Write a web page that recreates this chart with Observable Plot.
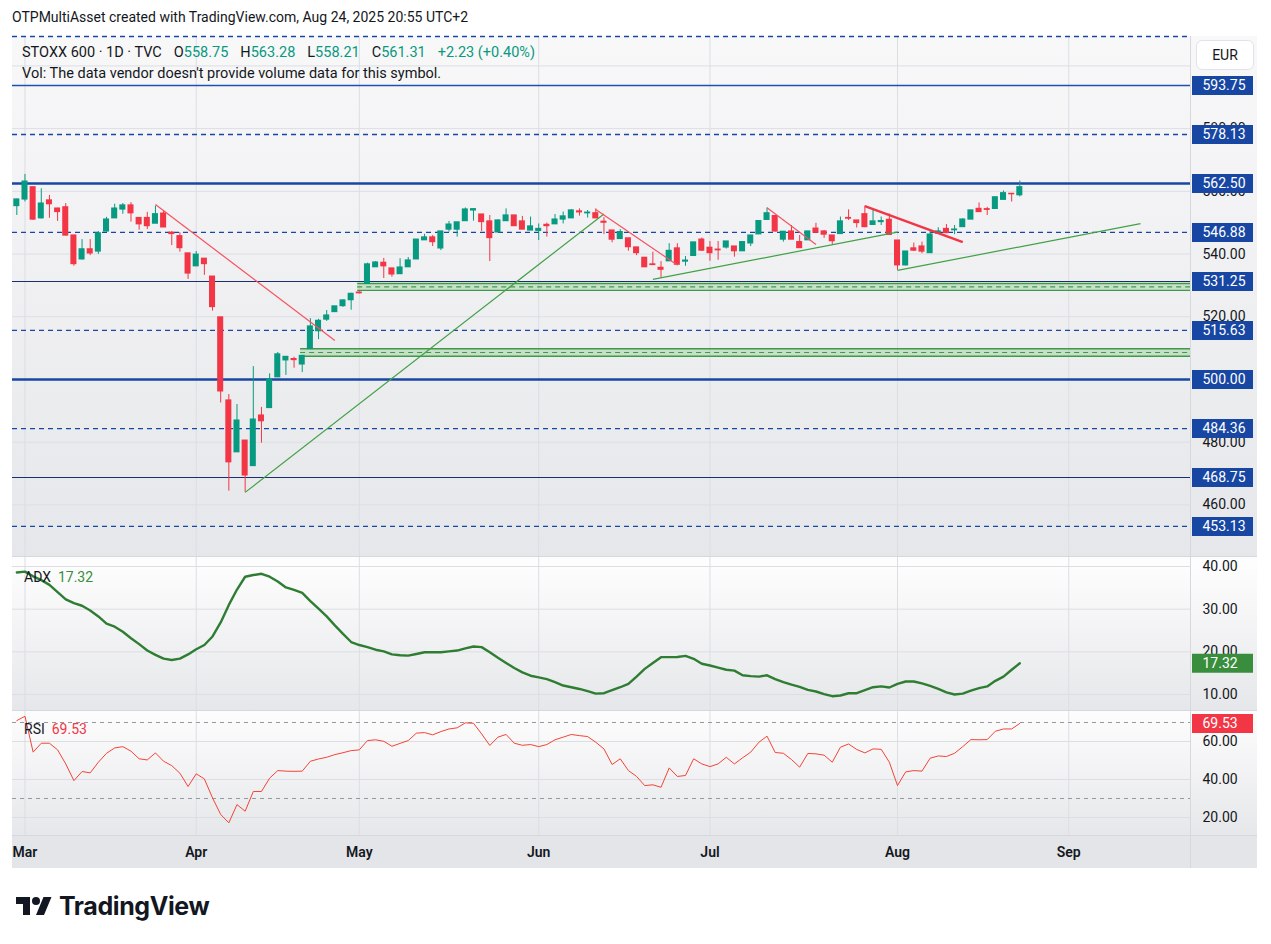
<!DOCTYPE html>
<html>
<head>
<meta charset="utf-8">
<script src="https://cdn.jsdelivr.net/npm/d3@7"></script>
<script src="https://cdn.jsdelivr.net/npm/@observablehq/plot@0.6"></script>
<style>
  html,body{margin:0;padding:0;background:#fff;}
  body{width:1271px;height:944px;position:relative;overflow:hidden;font-family:Roboto,"Noto Sans",sans-serif;color:#131722;}
  .a{position:absolute;white-space:nowrap;}
  .pane{position:absolute;left:12px;width:1245px;}
  .pane > div{position:absolute;top:0;}
  svg{overflow:visible;}
  .g{color:#089981;}
  .it{margin-left:12px;}
</style>
</head>
<body>
<div class="a" style="left:12px;top:8px;font-size:14px;line-height:18px">OTPMultiAsset created with TradingView.com, Aug 24, 2025 20:55 UTC+2</div>

<div id="mainPane" class="pane" style="top:36px;height:520px;background:linear-gradient(#f8f8f9,#e6e7ea)"><div id="mainChart" style="left:0"></div><div id="mainAxis" style="left:1178px"></div></div>
<div class="a" style="left:12px;top:556px;width:1245px;height:1px;background:#d6d8de"></div>
<div id="adxPane" class="pane" style="top:557px;height:153px;background:linear-gradient(#fdfdfd 5%,#e6e7ea)"><div id="adxChart" style="left:0"></div><div id="adxAxis" style="left:1178px"></div></div>
<div class="a" style="left:12px;top:710px;width:1245px;height:1px;background:#d6d8de"></div>
<div id="rsiPane" class="pane" style="top:711px;height:125px;background:linear-gradient(#fdfdfd,#e6e7ea)"><div id="rsiChart" style="left:0"></div><div id="rsiAxis" style="left:1178px"></div></div>
<div class="a" style="left:12px;top:835px;width:1245px;height:1px;background:#d6d8de"></div>
<div id="timePane" class="pane" style="top:836px;height:32px;background:#e4e5e8"><div id="timeAxis" style="left:0"></div></div>
<div class="a" style="left:1190px;top:36px;width:1px;height:832px;background:#d6d8de"></div>

<div id="legend1" class="a" style="left:22px;top:44px;font-size:14.5px;line-height:18px"></div>
<div class="a" style="left:22px;top:65px;font-size:14.5px;line-height:18px">Vol: The data vendor doesn't provide volume data for this symbol.</div>
<div id="adxLegend" class="a" style="left:24px;top:568px;font-size:14px;line-height:18px"></div>
<div id="rsiLegend" class="a" style="left:24px;top:720px;font-size:14px;line-height:18px"></div>
<div class="a" style="left:1196px;top:40px;width:56px;height:28px;border:1px solid #e0e3eb;border-radius:6px;background:#fff;font-size:14px;line-height:28px;text-align:center">EUR</div>

<div class="a" style="left:16px;top:893px;">
  <svg width="36" height="28" viewBox="0 0 36 28"><path d="M14 22H7V11H0V4h14v18zM28 22h-8l7.5-18h8L28 22z" fill="#131722"/><circle cx="20" cy="8" r="4" fill="#131722"/></svg>
</div>
<div class="a" style="left:59px;top:889px;font-family:Inter,Roboto,sans-serif;font-weight:700;font-size:25px;line-height:34px;letter-spacing:-0.4px">TradingView</div>

<script>
// ---------- DATA ----------
// Daily bars, 28 Feb 2025 (index 0) to 22 Aug 2025 (index 123)
const open = [555.3,557.4,561.3,551.4,557.1,554.5,554.9,545.9,538.3,541.5,
 540.8,547.2,551.4,554.2,555.5,551.5,551.5,549.7,552.9,546.8,
 545.7,540.2,536.1,538.5,532.8,519.8,493.3,476.8,480.5,472.4,
 488.5,490.9,500.7,506.1,506.5,504.8,509.7,515.4,519.1,521.5,
 523.4,525.3,527.7,530.5,535.8,537.2,535.4,533.6,535.8,538.3,
 544.4,545.3,541.8,547.8,547.8,550.5,553.9,552.6,550.4,546.9,
 550.5,552.3,550.4,547.5,547.4,549.3,549.5,551.0,551.4,553.6,
 553.0,553.0,550.3,547.5,544.8,545.0,542.1,538.8,536.7,535.6,
 537.7,541.8,537.6,539.4,544.6,542.0,541.4,542.1,542.4,540.9,
 543.4,546.3,550.9,552.1,544.6,547.2,543.8,544.4,548.1,547.2,
 545.9,546.4,551.5,550.7,552.7,549.3,550.2,550.9,544.3,536.4,
 541.8,542.4,540.3,546.5,548.0,547.6,548.6,551.0,554.4,554.3,
 554.4,557.3,559.2,558.75];
const high = [557.5,565.4,561.3,560.8,558.7,554.6,556.1,546.0,544.6,544.6,
 547.2,551.7,555.9,556.1,556.4,551.5,553.3,555.3,553.9,547.2,
 546.8,540.2,540.8,538.5,532.8,519.8,495.2,492.0,480.5,504.1,
 491.1,501.8,508.6,507.2,507.1,507.5,519.4,519.2,522.0,523.3,
 525.4,527.5,528.2,537.1,537.6,538.6,535.4,538.5,538.9,544.6,
 546.3,545.9,547.2,550.4,550.1,554.7,554.5,552.6,552.3,550.9,
 554.4,552.3,552.0,551.8,549.6,549.9,552.6,553.4,554.2,554.4,
 553.9,554.4,551.6,547.5,547.8,545.0,542.1,538.8,540.6,537.6,
 543.3,543.3,539.2,543.7,545.1,544.0,544.0,544.0,542.4,543.8,
 545.9,550.7,554.7,552.1,547.1,549.1,545.9,547.2,549.8,547.5,
 545.9,551.8,554.1,550.7,555.3,554.1,551.8,552.8,544.3,540.8,
 543.5,543.8,547.3,548.4,549.4,549.1,551.2,553.9,556.3,554.9,
 558.1,560.1,559.2,563.28];
const low = [552.3,556.6,550.7,551.2,551.4,550.4,545.7,536.1,538.1,539.5,
 539.9,547.0,551.4,552.7,550.2,547.6,547.8,549.7,548.5,542.7,
 540.6,531.9,536.1,533.2,521.8,492.5,464.4,476.8,464.0,472.4,
 479.7,490.9,500.7,501.3,503.6,502.2,509.7,512.7,518.5,521.5,
 523.0,522.1,527.3,530.5,535.8,532.2,532.6,533.6,535.8,538.3,
 544.4,542.4,541.1,547.0,545.4,550.5,550.5,547.2,537.6,546.7,
 550.5,548.9,547.8,547.5,544.3,545.4,549.5,549.6,551.4,552.1,
 551.5,551.4,546.2,543.6,544.8,540.9,539.5,535.8,536.5,532.4,
 537.7,536.6,536.1,539.4,540.8,537.7,538.0,541.6,539.0,540.9,
 542.4,546.3,550.9,547.0,543.8,544.6,541.9,544.4,546.8,545.0,
 543.05,546.4,550.7,548.3,548.4,549.3,549.1,546.1,534.8,536.2,
 540.8,540.1,540.3,546.5,546.5,546.2,548.6,551.0,553.4,552.3,
 554.2,557.3,556.6,558.21];
const close = [557.4,563.1,551.0,556.1,555.9,553.4,545.9,536.8,541.5,540.2,
 546.6,551.0,554.5,555.5,553.0,549.5,548.9,552.7,548.5,546.4,
 541.9,533.8,539.8,536.8,523.1,496.2,473.6,486.9,469.4,487.2,
 486.7,500.0,508.0,507.2,506.2,507.5,516.9,518.7,520.4,523.3,
 525.2,527.3,527.5,536.7,537.3,536.1,533.5,535.7,537.95,544.6,
 545.3,543.8,547.2,549.4,550.1,554.2,554.3,550.2,545.1,550.7,
 552.3,548.9,547.8,548.8,548.0,548.9,551.0,552.0,553.9,553.3,
 553.2,551.4,550.0,544.6,547.0,542.2,540.3,535.8,536.5,535.0,
 541.0,536.6,537.9,543.7,541.1,540.3,541.2,544.0,540.9,543.8,
 545.9,550.5,553.0,547.2,547.1,544.6,541.9,547.2,546.8,546.2,
 544.1,550.4,551.3,549.9,548.6,550.4,550.5,546.1,536.4,540.8,
 541.1,540.8,546.2,547.2,546.7,547.8,551.0,553.9,553.4,554.1,
 558.1,559.4,559.08,561.31];
const adx = [38.6,38.8,37.7,36.8,35.7,34.0,32.3,31.4,30.8,29.7,
 28.3,26.6,25.9,24.7,23.2,21.8,20.3,19.3,18.4,18.1,
 18.4,19.4,20.6,21.6,23.6,26.9,31.0,34.6,37.6,38.0,
 38.3,37.6,36.5,35.1,34.5,33.8,31.9,30.1,28.3,26.2,
 24.2,22.3,21.6,21.1,20.5,20.1,19.4,19.2,19.1,19.5,
 19.9,19.9,19.9,20.1,20.3,20.8,21.25,21.1,19.9,18.6,
 17.4,16.2,15.2,14.4,14.0,13.6,12.9,12.1,11.7,11.3,
 10.8,10.2,10.3,11.0,11.7,12.5,14.2,16.0,17.4,18.75,
 18.75,18.8,19.06,18.36,17.2,16.8,16.3,15.8,15.6,14.5,
 14.3,14.2,14.5,13.6,12.9,12.3,11.8,11.1,10.7,10.1,
 9.6,9.77,10.3,10.3,11.0,11.7,11.9,11.64,12.5,13.05,
 13.05,12.6,12.0,11.3,10.5,10.0,10.2,10.9,11.5,11.9,
 13.2,14.2,15.8,17.32];
const rsi = [71.0,73.3,54.4,59.1,59.1,55.6,48.2,39.4,44.2,43.5,
 49.1,53.8,56.6,57.3,54.9,50.9,50.3,54.0,49.6,47.3,
 43.3,36.3,43.0,40.3,30.3,21.6,17.2,26.8,23.3,33.7,
 33.7,40.7,44.7,44.4,44.3,44.4,49.6,50.8,51.7,53.1,
 54.1,55.2,55.6,60.5,60.9,60.1,57.5,59.0,60.5,64.4,
 64.7,63.5,65.2,66.6,67.2,69.8,69.6,64.0,57.9,62.3,
 63.7,59.1,58.0,58.4,57.3,58.4,60.9,62.3,63.7,63.1,
 62.6,59.6,56.1,47.9,50.9,44.7,41.6,36.8,37.2,35.9,
 46.1,41.6,42.1,50.9,48.2,46.8,48.2,51.7,48.2,51.4,
 54.4,59.6,62.8,54.2,53.8,50.5,46.5,53.7,53.5,52.8,
 49.1,57.0,58.7,55.8,54.0,56.1,55.9,49.1,36.8,44.0,
 44.7,44.4,51.2,52.4,52.1,53.8,57.3,61.0,60.9,61.0,
 65.4,66.6,66.6,69.53];

// month labels and the bar index where each month starts
const monthLabels = ["Mar","Apr","May","Jun","Jul","Aug","Sep"];
const monthBars = [1,22,42,64,85,108,129];

// price axis ticks and horizontal levels drawn on the chart
const priceTicks = [460,480,500,520,540,560,580,600];
const levels = [609.38,593.75,578.13,562.50,546.88,531.25,515.63,500.00,484.36,468.75,453.13];
const adxTicks = [10,20,30,40];
const rsiTicks = [20,40,60];
const rsiBands = [70,30];

// support zones: start bar, low, high
const zoneStart = [34.8,41.8];
const zoneLow = [507.4,528.4];
const zoneHigh = [509.8,530.6];

// trend lines (bar index, price)
const trendFromBar = [17,28,71,78,92,104,108];
const trendFromPrice = [555.8,464.0,554.2,531.9,554.75,555.3,534.8];
const trendToBar = [39,72,81.05,108,98,116,137.8];
const trendToPrice = [512.4,552.8,536.4,547.0,543.05,543.8,549.7];
const trendSide = ["bear","bull","bear","bull","bear","bear","bull"];

// ---------- STYLE ----------
const GREEN = "#089981", RED = "#f23645", BLUE = "#1847a3", GRID = "#dcdee4";
const X_DOMAIN = [-0.53, 143.93];
const SOLID_THICK = new Set([562.50, 500.00]);
const SOLID_BLUE = new Set([593.75]);
const SOLID_DARK = new Set([531.25, 468.75]);
const BOLD_TREND = 5;
const FONT = "Roboto, 'Noto Sans', sans-serif";

const candles = open.map((o,i)=>({i, o, h:high[i], l:low[i], c:close[i], col: close[i]>=o ? GREEN : RED}));
const zones = zoneStart.map((s,i)=>({s, lo:zoneLow[i], hi:zoneHigh[i], mid:(zoneLow[i]+zoneHigh[i])/2}));
const trends = trendFromBar.map((b,i)=>({x1:b, y1:trendFromPrice[i], x2:trendToBar[i], y2:trendToPrice[i], side:trendSide[i], k:i}));
const xEnd = () => X_DOMAIN[1];
const isDashed = v => !SOLID_THICK.has(v) && !SOLID_BLUE.has(v) && !SOLID_DARK.has(v);

function chart(h, ydom, marks){
  return Plot.plot({width:1178, height:h, margin:0,
    x:{domain:X_DOMAIN, axis:null}, y:{domain:ydom, axis:null},
    color:{type:"identity"},
    style:{background:"transparent", overflow:"visible", fontFamily:FONT},
    marks});
}
function axis(h, ydom, ticks, labels){
  return Plot.plot({width:67, height:h, margin:0,
    y:{domain:ydom, axis:null}, color:{type:"identity"},
    style:{background:"transparent", overflow:"visible", fontFamily:FONT, fontSize:"14px"},
    marks:[
      Plot.text(ticks, {y:d=>d, text:d=>d.toFixed(2), frameAnchor:"left", textAnchor:"start", dx:12, fill:"#131722", fontSize:14}),
      Plot.ruleY(labels, {y:"v", stroke:"bg", strokeWidth:19, insetLeft:2, insetRight:4}),
      Plot.text(labels, {y:"v", text:d=>d.v.toFixed(2), frameAnchor:"left", textAnchor:"start", dx:12, fill:"white", fontSize:14})
    ]});
}

// ---------- MAIN PANE ----------
const MAIN_Y = [443.55, 609.375];
document.getElementById("mainChart").append(chart(520, MAIN_Y, [
  Plot.ruleY(priceTicks, {stroke:GRID}),
  Plot.ruleX(monthBars, {stroke:GRID}),
  Plot.rect(zones, {x1:"s", x2:xEnd, y1:"lo", y2:"hi", fill:"#66bb6a", fillOpacity:0.28}),
  Plot.ruleY(zones, {y:"lo", x1:"s", x2:xEnd, stroke:"#3f9a44", strokeWidth:1.4}),
  Plot.ruleY(zones, {y:"hi", x1:"s", x2:xEnd, stroke:"#3f9a44", strokeWidth:1.4}),
  Plot.ruleY(zones, {y:"mid", x1:"s", x2:xEnd, stroke:"#3f9a44", strokeWidth:1.2, strokeDasharray:"5,4"}),
  Plot.ruleY(levels.filter(isDashed), {stroke:BLUE, strokeWidth:1.3, strokeDasharray:"5,4"}),
  Plot.ruleY(levels.filter(v=>SOLID_BLUE.has(v)), {stroke:"#1f4fb0", strokeWidth:1.6}),
  Plot.ruleY(levels.filter(v=>SOLID_DARK.has(v)), {stroke:"#1a2f70", strokeWidth:1.1}),
  Plot.ruleY(levels.filter(v=>SOLID_THICK.has(v)), {stroke:BLUE, strokeWidth:2.4}),
  Plot.ruleX(candles, {x:"i", y1:"l", y2:"h", stroke:"col", strokeWidth:1}),
  Plot.rect(candles, {x1:d=>d.i-0.37, x2:d=>d.i+0.37, y1:"o", y2:"c", fill:"col", insetTop:-0.6, insetBottom:-0.6}),
  Plot.link(trends.filter(t=>t.k!==BOLD_TREND), {x1:"x1", y1:"y1", x2:"x2", y2:"y2", stroke:d=>d.side==="bear"?"#f7525f":"#43a047", strokeWidth:1.2}),
  Plot.link(trends.filter(t=>t.k===BOLD_TREND), {x1:"x1", y1:"y1", x2:"x2", y2:"y2", stroke:"#f23645", strokeWidth:2.4})
]));
document.getElementById("mainAxis").append(axis(520, MAIN_Y, priceTicks.filter(v=>v<600),
  levels.filter(v=>v<600).map(v=>({v, bg:BLUE}))));

// ---------- ADX PANE ----------
const ADX_Y = [6.25, 42.11];
const adxLast = adx[adx.length-1];
document.getElementById("adxChart").append(chart(153, ADX_Y, [
  Plot.ruleY(adxTicks, {stroke:GRID}),
  Plot.ruleX(monthBars, {stroke:GRID}),
  Plot.line(adx, {x:(d,i)=>i, y:d=>d, stroke:"#2e7d32", strokeWidth:2.4})
]));
document.getElementById("adxAxis").append(axis(153, ADX_Y, adxTicks, [{v:adxLast, bg:"#388e3c"}]));

// ---------- RSI PANE ----------
const RSI_Y = [10, 75.79];
const rsiLast = rsi[rsi.length-1];
document.getElementById("rsiChart").append(chart(125, RSI_Y, [
  Plot.ruleY(rsiTicks, {stroke:GRID}),
  Plot.ruleX(monthBars, {stroke:GRID}),
  Plot.ruleY(rsiBands, {stroke:"#9598a1", strokeWidth:1, strokeDasharray:"4,4"}),
  Plot.line(rsi, {x:(d,i)=>i, y:d=>d, stroke:"#f44336", strokeWidth:1})
]));
document.getElementById("rsiAxis").append(axis(125, RSI_Y, rsiTicks, [{v:rsiLast, bg:"#f23645"}]));

// ---------- TIME AXIS ----------
document.getElementById("timeAxis").append(Plot.plot({width:1178, height:32, margin:0,
  x:{domain:X_DOMAIN, axis:null},
  style:{background:"transparent", overflow:"visible", fontFamily:FONT},
  marks:[Plot.text(monthLabels, {x:(d,i)=>monthBars[i], text:d=>d, frameAnchor:"middle", fontSize:14, fontWeight:600, fill:"#131722"})]
}));

// ---------- LEGENDS ----------
const n = close.length-1;
const chg = close[n]-close[n-1];
document.getElementById("legend1").innerHTML =
  `STOXX 600 · 1D · TVC<span class="it">O<span class="g">${open[n].toFixed(2)}</span></span><span class="it">H<span class="g">${high[n].toFixed(2)}</span></span><span class="it">L<span class="g">${low[n].toFixed(2)}</span></span><span class="it">C<span class="g">${close[n].toFixed(2)}</span></span><span class="it g">+${chg.toFixed(2)} (+${(chg/close[n-1]*100).toFixed(2)}%)</span>`;
document.getElementById("adxLegend").innerHTML = `ADX&nbsp;&nbsp;<span style="color:#388e3c">${adxLast.toFixed(2)}</span>`;
document.getElementById("rsiLegend").innerHTML = `RSI&nbsp;&nbsp;<span style="color:#f23645">${rsiLast.toFixed(2)}</span>`;
</script>
</body>
</html>
